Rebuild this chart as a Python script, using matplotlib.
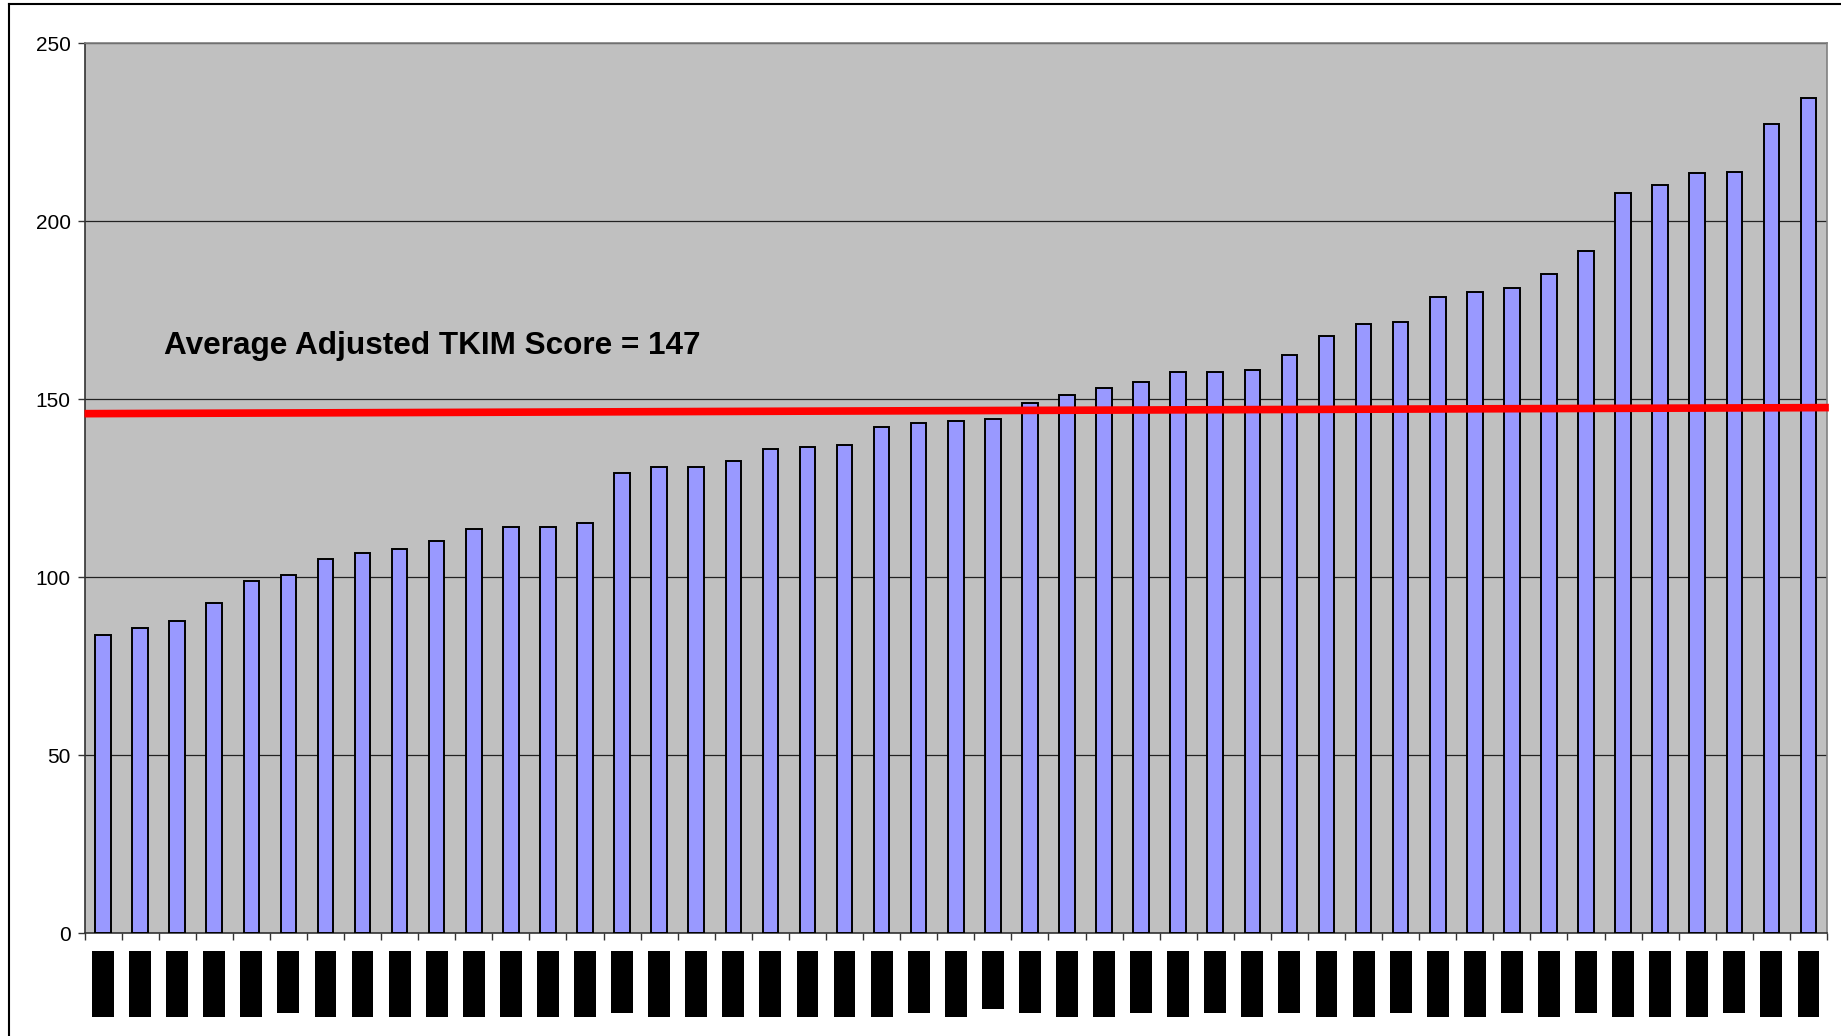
import numpy as np
import matplotlib
matplotlib.use("Agg")
import matplotlib.pyplot as plt
from matplotlib.lines import Line2D

plt.rcParams["font.family"] = ["Liberation Sans", "DejaVu Sans"]

# adjusted TKIM score per (redacted) site, sorted ascending
scores = [
    83.9, 85.7, 87.9, 92.8, 99.0, 100.7, 105.2, 106.9, 107.9, 110.2,
    113.6, 114.2, 114.2, 115.3, 129.2, 130.9, 130.9, 132.6, 136.0, 136.6,
    137.2, 142.2, 143.3, 143.9, 144.4, 149.0, 151.2, 153.3, 155.0, 157.8,
    157.8, 158.4, 162.4, 167.9, 171.2, 171.7, 178.9, 180.1, 181.2, 185.1,
    191.8, 208.0, 210.2, 213.5, 214.0, 227.5, 234.6,
]
# relative length of the blacked-out category labels
label_len = [
    1.0, 1.0, 1.0, 1.0, 1.0, 0.94, 1.0, 1.0, 1.0, 1.0,
    1.0, 1.0, 1.0, 1.0, 0.94, 1.0, 1.0, 1.0, 1.0, 1.0,
    1.0, 1.0, 0.94, 1.0, 0.88, 0.94, 1.0, 1.0, 0.94, 1.0,
    0.94, 1.0, 0.94, 1.0, 1.0, 0.94, 1.0, 1.0, 0.94, 1.0,
    0.94, 1.0, 1.0, 1.0, 0.94, 1.0, 1.0,
]
avg_line = [146.0, 147.7]  # red average line, left end / right end
avg_label = "Average Adjusted TKIM Score = 147"
y_ticks = [0, 50, 100, 150, 200, 250]

x = np.arange(len(scores))

fig = plt.figure(figsize=(18.41, 10.36), dpi=100)
ax = fig.add_axes([0.0459, 0.0990, 0.9465, 0.8591])
ax.set_facecolor("#C0C0C0")

ax.bar(x, scores, width=0.42, color="#9999FF", edgecolor="black",
       linewidth=1.4, zorder=3)
ax.plot([-0.5, len(scores) - 0.45], avg_line, color="#FF0000",
        linewidth=5.5, solid_capstyle="butt", zorder=4, clip_on=False)
ax.text(1.64, 165, avg_label, fontsize=22.7, fontweight="bold",
        va="center", ha="left", zorder=5)

ax.set_xlim(-0.5, len(scores) - 0.5)
ax.set_ylim(0, 250)
ax.set_yticks(y_ticks)
ax.set_xticks(np.arange(-0.5, len(scores), 1.0))
ax.set_xticklabels([])
ax.yaxis.grid(True, color="#222222", linewidth=0.9, zorder=1)
ax.set_axisbelow(True)
ax.tick_params(axis="y", direction="out", length=5, width=1,
               labelsize=15, pad=5, color="#333333")
ax.tick_params(axis="x", direction="out", length=5, width=1,
               color="#333333")
for side in ["top", "right"]:
    ax.spines[side].set_color("#808080")
    ax.spines[side].set_linewidth(1.2)
for side in ["left", "bottom"]:
    ax.spines[side].set_color("#333333")
    ax.spines[side].set_linewidth(1.2)

# redaction boxes where the category labels were
ax2 = fig.add_axes([0.0459, 0.0, 0.9465, 0.0990], sharex=ax)
ax2.bar(x, np.array(label_len) * 66, bottom=17.6, width=0.59,
        color="black", linewidth=0)
ax2.set_ylim(102.6, 0)
ax2.axis("off")

# screenshot frame lines
fig.add_artist(Line2D([9 / 1841, 1], [1 - 4 / 1036, 1 - 4 / 1036],
                      color="black", linewidth=1.5))
fig.add_artist(Line2D([9 / 1841, 9 / 1841], [0, 1 - 4 / 1036],
                      color="black", linewidth=1.5))

fig.savefig("out.png", dpi=100)
